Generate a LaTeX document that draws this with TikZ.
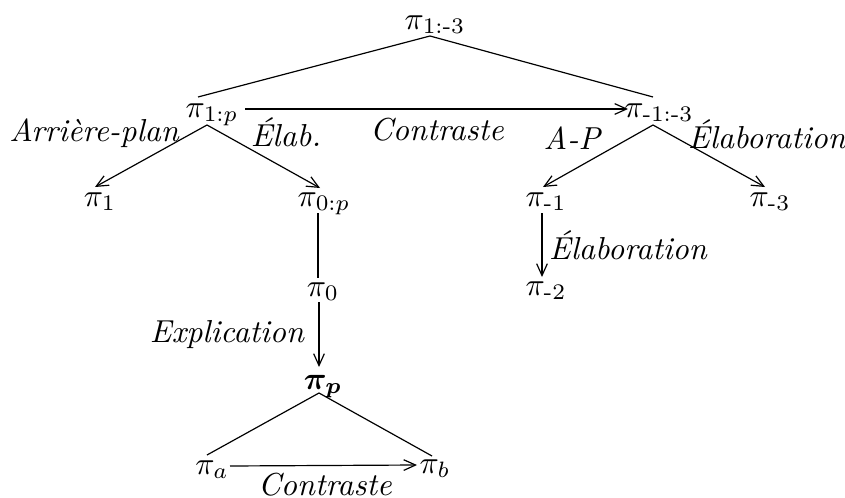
\documentclass[tikz,border=0pt]{standalone}
\usepackage{amsmath}
\usepackage{bm}
\usepackage{fix-cm}
\usetikzlibrary{calc,arrows.meta}
\begin{document}
\begin{tikzpicture}[x=0.3367pt,y=-0.3367pt,
  every node/.style={font=\fontsize{10.7}{13}\selectfont},
  pinode/.style={anchor=base,inner sep=0pt},
  lab/.style={anchor=base,inner sep=0pt,font=\fontsize{10.7}{13}\selectfont\itshape},
  edge/.style={draw,line width=0.4pt},
  arr/.style={draw,line width=0.4pt,-{Straight Barb[length=4pt,width=3.6pt,line width=0.4pt]}}]
\useasboundingbox (0,0) rectangle (845,498);
% nodes
\node[pinode] (t)  at (435,29)  {$\pi_{\text{1:-3}}$};
\node[pinode] (a)  at (212,117) {$\pi_{1:p}$};
\node[pinode] (b)  at (659,117) {$\pi_{\text{-1:-3}}$};
\node[pinode] (c1) at (100,206) {$\pi_1$};
\node[pinode] (c2) at (324,206) {$\pi_{0:p}$};
\node[pinode] (c3) at (546,206) {$\pi_{\text{-1}}$};
\node[pinode] (c4) at (770,206) {$\pi_{\text{-3}}$};
\node[pinode] (d)  at (323,296) {$\pi_0$};
\node[pinode] (g)  at (546,295) {$\pi_{\text{-2}}$};
\node[pinode] (e)  at (323,389) {$\bm{\pi_p}$};
\node[pinode] (fa) at (212,474) {$\pi_a$};
\node[pinode] (fb) at (435,473) {$\pi_b$};
% labels
\node[lab] (l1) at (94,141)  {Arrière-plan};
\node[lab] (l2) at (286,146) {Élab.};
\node[lab] (l3) at (437,140) {Contraste};
\node[lab] (l4) at (572,149) {A-P};
\node[lab] (l5) at (767,148) {Élaboration};
\node[lab] (l6) at (628,259) {Élaboration};
\node[lab] (l7) at (227,342) {Explication};
\node[lab] (l8) at (325,495) {Contraste};
% connectors
\draw[edge] ($(t.base)+(-5,7)$) -- ($(a.base)+(-14,-20)$);
\draw[edge] ($(t.base)+(-5,7)$) -- ($(b.base)+(-6,-20)$);
\draw[arr] ($(a.base)+(33,-8)$) -- ($(b.base)+(-31,-8)$);
\draw[arr] ($(a.base)+(-5,8)$) -- ($(c1.base)+(-5,-19)$);
\draw[arr] ($(a.base)+(-5,8)$) -- ($(c2.base)+(-4,-18)$);
\draw[arr] ($(b.base)+(-6,8)$) -- ($(c3.base)+(-3,-19)$);
\draw[arr] ($(b.base)+(-6,8)$) -- ($(c4.base)+(-5,-19)$);
\draw[edge] ($(c2.base)+(-6,7)$) -- ($(d.base)+(-5,-18)$);
\draw[arr] ($(d.base)+(-4,6)$) -- ($(e.base)+(-4,-22)$);
\draw[arr] ($(c3.base)+(-4,7)$) -- ($(g.base)+(-4,-18)$);
\draw[edge] ($(e.base)+(-4,4)$) -- ($(fa.base)+(-5,-19)$);
\draw[edge] ($(e.base)+(-4,4)$) -- ($(fb.base)+(-3,-17)$);
\draw[arr] ($(fa.base)+(18,-8)$) -- ($(fb.base)+(-18,-8)$);
\end{tikzpicture}
\end{document}
